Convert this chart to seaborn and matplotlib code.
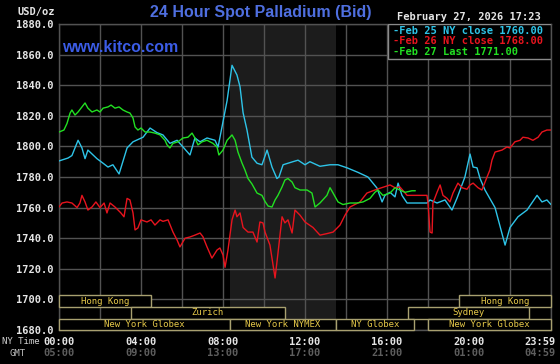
import matplotlib
matplotlib.use("Agg")
import matplotlib.pyplot as plt
import matplotlib.transforms as mtransforms
from matplotlib.patches import Rectangle
import numpy as np
import pandas as pd
import seaborn as sns

# ---------------- data ----------------
cyan_hours = [0.0, 0.44, 0.63, 0.93, 1.12, 1.27, 1.41, 1.85, 2.15, 2.39, 2.63, 2.93, 3.32, 3.61,
              4.10, 4.44, 4.78, 5.07, 5.41, 5.76, 6.05, 6.39, 6.63, 6.88, 7.22, 7.61, 7.76, 7.95,
              8.20, 8.44, 8.68, 8.83, 8.98, 9.17, 9.41, 9.66, 9.90, 10.15, 10.39, 10.63, 10.73,
              10.93, 11.41, 11.66, 12.0, 12.24, 12.73, 13.22, 13.61, 14.05, 14.59, 15.07, 15.51,
              15.76, 15.90, 16.15, 16.39, 16.54, 16.73, 16.98, 17.95, 18.10, 18.44, 18.83, 19.17,
              19.41, 19.80, 20.05, 20.20, 20.39, 20.54, 20.78, 21.27, 21.76, 22.0, 22.39, 22.83,
              23.32, 23.56, 23.80, 24.0]
cyan_values = [1790.5, 1792.4, 1794.0, 1804.0, 1799.0, 1792.0, 1797.6, 1792.0, 1789.0, 1786.5,
               1788.0, 1782.0, 1799.0, 1803.0, 1806.0, 1812.0, 1809.0, 1807.5, 1802.0, 1804.0,
               1799.6, 1794.4, 1805.5, 1803.0, 1805.5, 1804.0, 1799.6, 1812.7, 1830.0, 1853.0,
               1846.7, 1839.0, 1822.0, 1810.7, 1793.0, 1789.0, 1788.0, 1797.6, 1786.5, 1779.0,
               1780.0, 1788.0, 1790.0, 1791.0, 1788.0, 1790.0, 1787.0, 1788.0, 1788.0, 1786.0,
               1783.0, 1780.0, 1772.8, 1763.7, 1768.0, 1770.0, 1767.0, 1776.0, 1768.0, 1763.0,
               1763.0, 1765.0, 1763.0, 1765.0, 1758.4, 1766.0, 1780.0, 1795.0, 1786.5, 1786.0,
               1779.0, 1771.5, 1760.0, 1735.5, 1747.0, 1754.0, 1758.4, 1768.0, 1763.7, 1765.0,
               1762.0]

red_hours = [0.0, 0.15, 0.39, 0.63, 0.88, 1.02, 1.12, 1.27, 1.41, 1.61, 1.80, 2.0, 2.20, 2.34,
             2.49, 2.73, 2.88, 3.02, 3.17, 3.32, 3.46, 3.61, 3.71, 3.85, 4.0, 4.29, 4.49, 4.68,
             4.93, 5.07, 5.32, 5.56, 5.76, 5.90, 6.15, 6.39, 6.63, 6.88, 7.02, 7.22, 7.46, 7.71,
             7.85, 8.0, 8.10, 8.24, 8.44, 8.59, 8.68, 8.83, 8.98, 9.22, 9.46, 9.66, 9.80, 9.95,
             10.05, 10.29, 10.54, 10.68, 10.88, 11.02, 11.17, 11.37, 11.51, 11.76, 12.0, 12.39,
             12.73, 13.07, 13.37, 13.71, 13.95, 14.20, 14.68, 15.02, 15.51, 16.15, 16.39, 16.63,
             16.98, 17.95, 18.0, 18.10, 18.20, 18.24, 18.44, 18.59, 18.73, 18.93, 19.07, 19.22,
             19.46, 19.66, 19.90, 20.05, 20.20, 20.44, 20.63, 20.88, 21.02, 21.12, 21.27, 21.61,
             21.85, 22.0, 22.24, 22.49, 22.63, 22.88, 23.12, 23.37, 23.56, 23.80, 24.0]
red_values = [1760.4, 1763.0, 1763.7, 1763.0, 1760.0, 1763.0, 1768.0, 1763.7, 1758.4, 1760.4,
              1763.7, 1760.0, 1763.0, 1756.5, 1763.0, 1760.4, 1758.4, 1756.5, 1754.0, 1766.0,
              1765.0, 1756.5, 1745.4, 1746.7, 1752.0, 1750.6, 1752.0, 1748.6, 1752.0, 1751.0,
              1752.0, 1744.0, 1738.8, 1734.3, 1740.0, 1740.8, 1742.0, 1743.4, 1741.0, 1734.3,
              1727.0, 1732.3, 1733.6, 1729.0, 1721.0, 1732.0, 1752.0, 1758.4, 1754.0, 1756.5,
              1747.0, 1744.0, 1744.0, 1737.5, 1750.6, 1750.0, 1744.0, 1735.5, 1714.0, 1730.0,
              1754.0, 1750.0, 1752.0, 1743.4, 1758.4, 1755.0, 1750.6, 1747.0, 1742.0, 1743.0,
              1744.0, 1748.6, 1755.0, 1760.4, 1763.7, 1769.5, 1772.0, 1774.8, 1773.0, 1773.5,
              1768.0, 1768.0, 1763.0, 1744.0, 1743.4, 1763.0, 1770.0, 1774.8, 1768.0, 1766.0,
              1763.7, 1769.5, 1776.0, 1773.0, 1772.0, 1774.8, 1776.0, 1773.0, 1771.5, 1780.0,
              1784.6, 1791.0, 1796.3, 1797.6, 1799.6, 1799.0, 1803.0, 1804.0, 1806.0, 1805.5,
              1804.0, 1806.0, 1809.4, 1810.7, 1810.7]

green_hours = [0.0, 0.24, 0.39, 0.54, 0.63, 0.78, 0.93, 1.12, 1.27, 1.41, 1.61, 1.85, 2.0, 2.15,
               2.39, 2.54, 2.73, 2.93, 3.12, 3.32, 3.46, 3.61, 3.71, 3.85, 4.0, 4.20, 4.44, 4.68,
               4.93, 5.17, 5.27, 5.41, 5.56, 5.80, 6.05, 6.29, 6.49, 6.63, 6.78, 6.98, 7.22, 7.51,
               7.71, 7.80, 8.0, 8.20, 8.44, 8.59, 8.73, 8.93, 9.07, 9.22, 9.41, 9.66, 9.90, 10.05,
               10.20, 10.39, 10.54, 10.68, 10.88, 11.02, 11.17, 11.37, 11.51, 11.76, 12.10, 12.34,
               12.49, 12.73, 13.07, 13.22, 13.37, 13.61, 13.85, 14.20, 14.54, 14.83, 15.17, 15.41,
               15.56, 15.80, 16.15, 16.39, 16.63, 16.88, 17.22, 17.38]
green_values = [1809.4, 1810.7, 1815.0, 1821.8, 1823.8, 1820.5, 1822.5, 1825.8, 1828.4, 1825.0,
                1822.5, 1823.8, 1822.5, 1825.0, 1825.8, 1827.0, 1825.0, 1825.8, 1823.8, 1822.5,
                1821.8, 1818.6, 1812.7, 1810.7, 1812.0, 1809.4, 1809.4, 1808.7, 1807.5, 1804.0,
                1801.0, 1799.0, 1802.0, 1803.0, 1805.5, 1806.0, 1808.7, 1805.5, 1801.0, 1803.0,
                1804.0, 1802.0, 1799.6, 1794.4, 1797.6, 1804.0, 1807.5, 1804.0, 1796.3, 1789.0,
                1784.6, 1779.0, 1775.5, 1769.5, 1768.0, 1764.0, 1761.0, 1760.4, 1765.0, 1768.0,
                1773.5, 1778.0, 1779.0, 1776.7, 1773.0, 1771.5, 1771.5, 1769.5, 1760.4, 1763.0,
                1768.0, 1773.0, 1769.5, 1763.7, 1762.0, 1763.0, 1763.0, 1763.7, 1766.0, 1770.0,
                1771.5, 1768.0, 1769.5, 1773.0, 1771.5, 1770.0, 1771.0, 1771.0]

series_names = ["Feb 25", "Feb 26", "Feb 27"]
legend_labels = ["Feb 25 NY close 1760.00", "Feb 26 NY close 1768.00", "Feb 27 Last 1771.00"]
series_colors = ["#2ec4e8", "#e8141e", "#22e022"]

y_ticks = [1680, 1700, 1720, 1740, 1760, 1780, 1800, 1820, 1840, 1860, 1880]
ny_tick_hours = [0, 4, 8, 12, 16, 20, 24]
ny_tick_labels = ["00:00", "04:00", "08:00", "12:00", "16:00", "20:00", "23:59"]
gmt_tick_labels = ["05:00", "09:00", "13:00", "17:00", "21:00", "01:00", "04:59"]

session_names = ["Hong Kong", "Hong Kong", "Zurich", "Sydney",
                 "New York Globex", "New York NYMEX", "NY Globex", "New York Globex"]
session_start = [0.0, 19.5, 3.5, 17.0, 0.0, 8.33, 13.5, 18.0]
session_end = [4.5, 24.0, 11.0, 22.93, 8.33, 13.5, 17.33, 24.0]
session_row = [0, 0, 1, 1, 2, 2, 2, 2]
row_bounds = [(1695.0, 1702.9), (1687.4, 1695.0), (1680.0, 1687.4)]
shade_span = (8.33, 13.5)

title_text = "24 Hour Spot Palladium (Bid)"
date_text = "February 27, 2026 17:23"

# ---------------- frame ----------------
df = pd.concat([
    pd.DataFrame({"hour": h, "price": v, "series": n})
    for h, v, n in zip([cyan_hours, red_hours, green_hours],
                       [cyan_values, red_values, green_values], series_names)
], ignore_index=True)

sns.set_style("dark")
plt.rcParams["font.family"] = ["DejaVu Sans Mono"]

W, H = 560, 364
fig = plt.figure(figsize=(W / 100, H / 100), dpi=100, facecolor="black")
L, R, T, B = 59, 551, 24, 330
ax = fig.add_axes([L / W, 1 - B / H, (R - L) / W, (B - T) / H])
ax.set_facecolor("black")

grid_c = "#525252"
ax.axvspan(*shade_span, color="#1c1c1c", zorder=0, lw=0)

sns.lineplot(data=df, x="hour", y="price", hue="series", hue_order=series_names,
             palette=dict(zip(series_names, series_colors)), estimator=None, sort=False,
             legend=False, linewidth=1.0, ax=ax, zorder=3)

ax.set_xlim(0, 24)
ax.set_ylim(y_ticks[0], y_ticks[-1])
ax.set_xlabel("")
ax.set_ylabel("")

ax.set_xticks(ny_tick_hours)
ax.set_xticks([h + 2 for h in ny_tick_hours[:-1]], minor=True)
ax.set_xticklabels(ny_tick_labels)
ax.set_yticks(y_ticks)
ax.set_yticklabels([f"{t:.1f}" for t in y_ticks])
ax.grid(True, which="both", color=grid_c, linewidth=1.0, zorder=1)
ax.set_axisbelow(True)
ax.tick_params(which="both", length=0)
ax.tick_params(axis="y", pad=4, labelsize=7.5, labelcolor="#e6e6e6")
ax.tick_params(axis="x", pad=5, labelsize=7.5, labelcolor="#e6e6e6")
for lab in ax.get_xticklabels() + ax.get_yticklabels():
    lab.set_fontweight("bold")
last = ax.get_xticklabels()[-1]
last.set_ha("right")
last.set_transform(last.get_transform() + mtransforms.ScaledTranslation(5 / 100, 0, fig.dpi_scale_trans))
for s in ax.spines.values():
    s.set_color(grid_c)
    s.set_linewidth(1.0)

# GMT row
xt = mtransforms.blended_transform_factory(ax.transData, fig.transFigure)
for i, (h, lab) in enumerate(zip(ny_tick_hours, gmt_tick_labels)):
    t = ax.text(h, 1 - 353 / H, lab, transform=xt, ha="center", va="center",
                fontsize=7.5, fontweight="bold", color="#5e5e5e")
    if i == len(ny_tick_hours) - 1:
        t.set_ha("right")
        t.set_transform(xt + mtransforms.ScaledTranslation(5 / 100, 0, fig.dpi_scale_trans))
fig.text(2 / W, 1 - 342 / H, "NY Time", fontsize=6.5, color="#d0d0d0", va="center", ha="left")
fig.text(10 / W, 1 - 353 / H, "GMT", fontsize=6.5, color="#c0c0c0", va="center", ha="left")

# sessions
box_c = "#a8a070"
txt_c = "#e6c94a"
for name, s0, s1, r in zip(session_names, session_start, session_end, session_row):
    y0, y1 = row_bounds[r]
    ax.add_patch(Rectangle((s0, y0), s1 - s0, y1 - y0, facecolor="black", edgecolor=box_c,
                           linewidth=1.0, zorder=4, clip_on=False))
    ax.text((s0 + s1) / 2, (y0 + y1) / 2, name, ha="center", va="center", fontsize=6.5,
            color=txt_c, zorder=5)

# titles
fig.text(261 / W, 1 - 13 / H, title_text, ha="center", va="center", fontsize=11.5,
         fontweight="bold", color="#4f6fe0", family="Liberation Sans")
fig.text(62 / W, 1 - 48 / H, "www.kitco.com", ha="left", va="center", fontsize=11.5,
         fontweight="bold", color="#3b5ce6", family="Liberation Sans")
fig.text(55 / W, 1 - 12 / H, "USD/oz", ha="right", va="center", fontsize=7.5,
         fontweight="bold", color="#e6e6e6")
fig.text(397 / W, 1 - 17 / H, date_text, ha="left", va="center", fontsize=7.5,
         fontweight="bold", color="#e6e6e6")

# legend box
ax.add_patch(Rectangle(((388 - L) / (R - L), 1 - (59 - T) / (B - T)), (R - 388) / (R - L),
                       (59 - T) / (B - T), transform=ax.transAxes, facecolor="black",
                       edgecolor="#8a8a8a", linewidth=1.0, zorder=6))
for i, (lab, col) in enumerate(zip(legend_labels, series_colors)):
    fig.text(393 / W, 1 - (31 + 10.5 * i) / H, "-" + lab, ha="left", va="center",
             fontsize=7.5, fontweight="bold", color=col, zorder=7)

fig.savefig("out.png", dpi=100, facecolor="black")
